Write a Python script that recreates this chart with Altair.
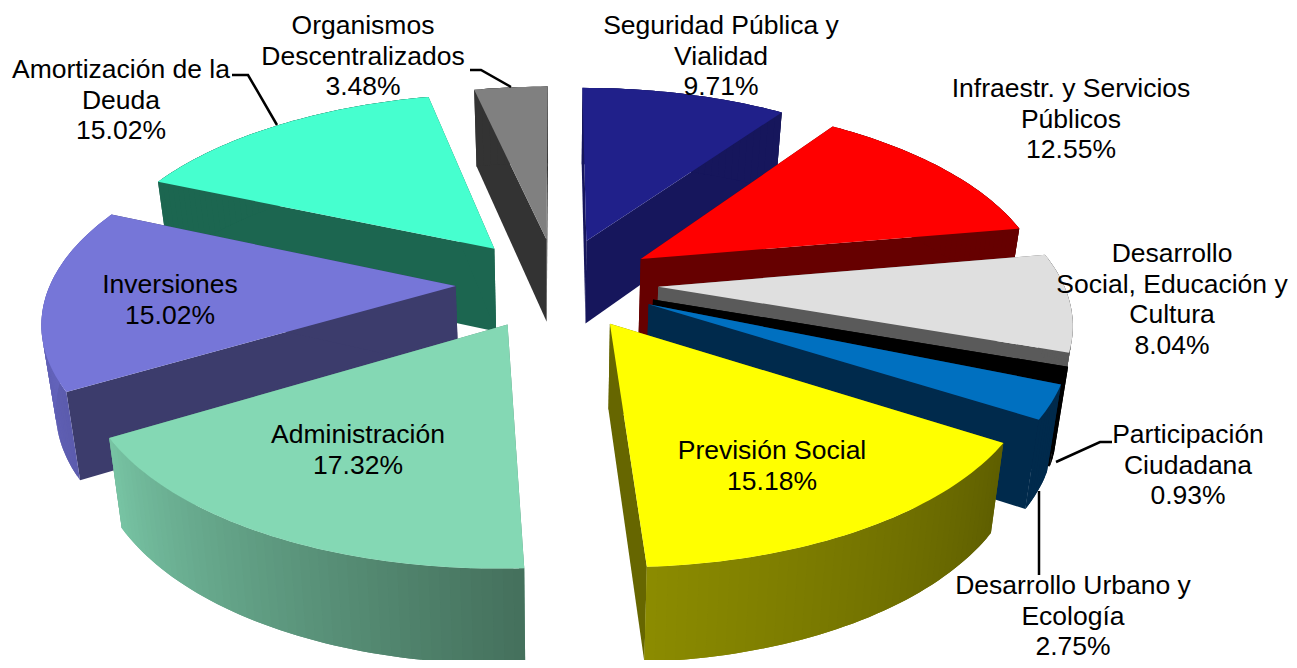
import math
import altair as alt

NAMES = [
    ["Seguridad Pública y", "Vialidad"],
    ["Infraestr. y Servicios", "Públicos"],
    ["Desarrollo", "Social, Educación y", "Cultura"],
    ["Participación", "Ciudadana"],
    ["Desarrollo Urbano y", "Ecología"],
    ["Previsión Social"],
    ["Administración"],
    ["Inversiones"],
    ["Amortización de la", "Deuda"],
    ["Organismos", "Descentralizados"],
]
VALUES = [9.71, 12.55, 8.04, 0.93, 2.75, 15.18, 17.32, 15.02, 15.02, 3.48]

TOP = ["#20208a", "#ff0000", "#dfdfdf", "#000000", "#0070c0",
       "#ffff00", "#84d8b4", "#7676d8", "#46ffcf", "#808080"]
CUT = ["#16165c", "#660000", "#5a5a5a", "#000000", "#002a4c",
       "#666600", "#5a907a", "#3c3c6c", "#1c6650", "#333333"]
RIM_L = ["#16165c", "#660000", "#5a5a5a", "#000000", "#002a4c",
         "#8c8c00", "#78c4a4", "#6a6ac8", "#1c6650", "#333333"]
RIM_R = ["#16165c", "#660000", "#5a5a5a", "#000000", "#002a4c",
         "#5e5e00", "#44705c", "#5c5cae", "#1c6650", "#333333"]
PAINT_ORDER = [0, 9, 8, 1, 2, 3, 4, 7, 5, 6]

# label anchors: centre x, first line centre y (page pixels)
LABEL_POS = [(721, 26), (1071, 89), (1172, 254), (1188, 435), (1073, 586),
             (772, 451), (358, 435), (170, 285), (121, 70), (363, 26)]
LINE_STEP = 30.6
LEADERS = [
    [(470, 70), (481, 70), (511, 87)],
    [(232, 75), (248, 75), (277, 125)],
    [(1112, 442), (1100, 442), (1056, 462)],
    [(1039, 491), (1039, 575)],
]

# camera model of the tilted pie
CX, CY, R, RY, PERSP, EXPLODE_X, EXPLODE_Y = 557, 283, 405, 190, 0.16, 0.25, 0.24
DEPTH, SHRINK, OFF = 84, 0.972, 8


def project(X, Y, low=False):
    w = 1 / (1 - PERSP * Y)
    sx = R * X * w
    sy = RY * Y * w
    if low:
        sx *= SHRINK
        sy += DEPTH * (1 + 0.55 * (w - 1))
    return [CX + sx - OFF, CY + sy - OFF]


def mix(a, b, t):
    ca = [int(a[i:i + 2], 16) for i in (1, 3, 5)]
    cb = [int(b[i:i + 2], 16) for i in (1, 3, 5)]
    return "#%02x%02x%02x" % tuple(round(p + (q - p) * t) for p, q in zip(ca, cb))


def feature(points, colour):
    ring = [list(p) for p in points] + [list(points[0])]
    return {"type": "Feature", "properties": {"fill": colour},
            "geometry": {"type": "Polygon", "coordinates": [ring]}}


total = sum(VALUES)
starts = []
acc = 0.0
for v in VALUES:
    starts.append(acc / total * 2 * math.pi)
    acc += v
ends = starts[1:] + [2 * math.pi]

features = []
for i in PAINT_ORDER:
    a0, a1 = starts[i], ends[i]
    mid = (a0 + a1) / 2
    ox, oy = EXPLODE_X * math.sin(mid), -EXPLODE_Y * math.cos(mid)
    n = max(3, int((a1 - a0) / math.radians(1.2)))
    rim = [(ox + math.sin(a0 + (a1 - a0) * k / n), oy - math.cos(a0 + (a1 - a0) * k / n))
           for k in range(n + 1)]
    apex = (ox, oy)
    for edge in (rim[0], rim[-1]):
        features.append(feature([project(*apex), project(*edge),
                                 project(*edge, low=True), project(*apex, low=True)], CUT[i]))
    # rim wall: each strip overlaps the next so no seams show, painted from the right end leftward
    for k in range(n):
        t = (k + 0.5) / n
        stop = min(n, k + 2)
        upper = [project(*rim[j]) for j in range(k, stop + 1)]
        lower = [project(*rim[j], low=True) for j in range(stop, k - 1, -1)]
        features.append(feature(upper + lower, mix(RIM_R[i], RIM_L[i], t)))
    features.append(feature([project(*apex)] + [project(*p) for p in rim], TOP[i]))

label_rows = []
for names, v, (lx, ly) in zip(NAMES, VALUES, LABEL_POS):
    for j, line in enumerate(names + [f"{v:.2f}%"]):
        label_rows.append({"x": lx - OFF, "y": ly + j * LINE_STEP - OFF, "t": line})

leader_rows = []
for g, path in enumerate(LEADERS):
    for j, (px, py) in enumerate(path):
        leader_rows.append({"g": g, "i": j, "x": px - OFF, "y": py - OFF})

pie = alt.Chart(alt.Data(values=features)).mark_geoshape(strokeWidth=0).encode(
    color=alt.Color("properties.fill:N", scale=None),
).project(type="identity", scale=1, translate=[0, 0])

leaders = alt.Chart(alt.Data(values=leader_rows)).mark_line(
    color="black", strokeWidth=2.5).encode(
    x=alt.X("x:Q", scale=None), y=alt.Y("y:Q", scale=None),
    detail="g:N", order=alt.Order("i:Q"))

labels = alt.Chart(alt.Data(values=label_rows)).mark_text(
    font="Liberation Sans", fontSize=26.5, color="black", align="center", baseline="middle"
).encode(x=alt.X("x:Q", scale=None), y=alt.Y("y:Q", scale=None), text="t:N")

chart = alt.layer(pie, leaders, labels).properties(
    width=1281, height=652, padding=0, autosize=alt.AutoSizeParams(type="none")
).configure_view(strokeWidth=0)

chart.save("out.html", embed_options={"renderer": "svg", "actions": False})
